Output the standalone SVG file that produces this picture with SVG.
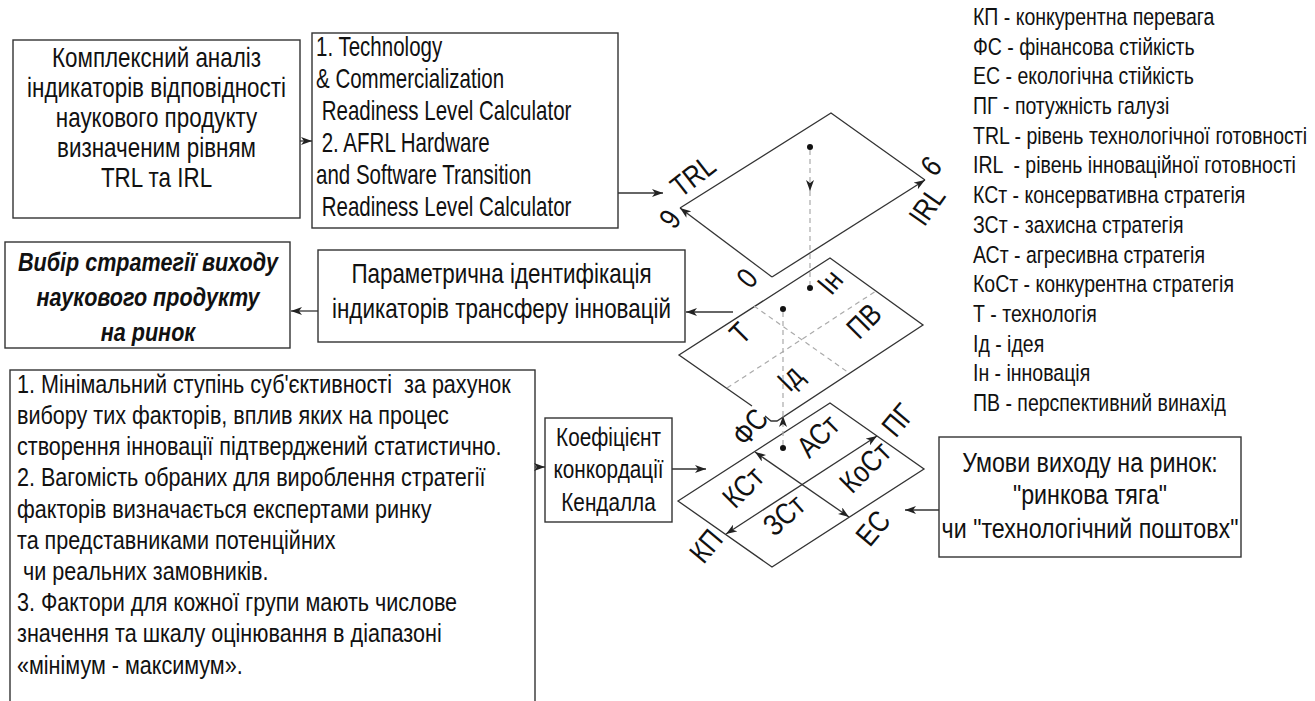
<svg xmlns="http://www.w3.org/2000/svg" width="1315" height="701" viewBox="0 0 1315 701">
<style>
text{font-family:"Liberation Sans",Arial,sans-serif;fill:#111}
.box{fill:#fff;stroke:#333;stroke-width:1.4}
.ln{fill:none;stroke:#333;stroke-width:1.3}
.ds{fill:none;stroke:#aaa;stroke-width:1.2;stroke-dasharray:5 4}
.f27{font-size:27px}
.f26{font-size:26px}
.f25{font-size:25px}
.f28{font-size:28px}
.lg{font-size:23.5px}
.lb{font-size:30px}
.bi{font-size:26px;font-weight:bold;font-style:italic}
.c{text-anchor:middle}
</style>
<defs>
<marker id="ah" viewBox="0 0 11 8" markerWidth="11" markerHeight="8" refX="11" refY="4" orient="auto-start-reverse" markerUnits="userSpaceOnUse">
<path d="M0,0 L11,4 L0,8 L3,4 z" fill="#222"/>
</marker>
</defs>
<rect width="1315" height="701" fill="#fff"/>

<g id="box-analysis">
<rect class="box" x="13" y="40" width="287" height="178"/>
<g transform="translate(156.5,0) scale(0.83,1)">
<text class="f27 c" x="0" y="67">Комплексний аналіз</text>
<text class="f27 c" x="0" y="97">індикаторів відповідності</text>
<text class="f27 c" x="0" y="127">наукового продукту</text>
<text class="f27 c" x="0" y="157">визначеним рівням</text>
<text class="f27 c" x="0" y="187">TRL та IRL</text>
</g>
</g>

<g id="box-calculators">
<rect class="box" x="312" y="33" width="306" height="195"/>
<g transform="translate(316,0) scale(0.76,1)">
<text class="f27" x="0" y="56">1. Technology</text>
<text class="f27" x="0" y="88">&amp; Commercialization</text>
<text class="f27" x="0" y="120" xml:space="preserve"> Readiness Level Calculator</text>
<text class="f27" x="0" y="152" xml:space="preserve"> 2. AFRL Hardware</text>
<text class="f27" x="0" y="184">and Software Transition</text>
<text class="f27" x="0" y="216" xml:space="preserve"> Readiness Level Calculator</text>
</g>
</g>

<g id="box-choice">
<rect class="box" x="5" y="242" width="285" height="106"/>
<g transform="translate(148,0) scale(0.83,1)">
<text class="bi c" x="0" y="271">Вибір стратегії виходу</text>
<text class="bi c" x="0" y="306">наукового продукту</text>
<text class="bi c" x="0" y="341">на ринок</text>
</g>
</g>

<g id="box-param">
<rect class="box" x="318" y="250" width="367" height="92"/>
<g transform="translate(501.5,0) scale(0.83,1)">
<text class="f27 c" x="0" y="283">Параметрична ідентифікація</text>
<text class="f27 c" x="0" y="318">індикаторів трансферу інновацій</text>
</g>
</g>

<g id="box-criteria">
<rect class="box" x="10" y="370" width="525" height="345"/>
<g transform="translate(17,0) scale(0.83,1)">
<text class="f26" x="0" y="393" xml:space="preserve">1. Мінімальний ступінь суб'єктивності  за рахунок</text>
<text class="f26" x="0" y="424">вибору тих факторів, вплив яких на процес</text>
<text class="f26" x="0" y="455">створення інновації підтверджений статистично.</text>
<text class="f26" x="0" y="486">2. Вагомість обраних для вироблення стратегії</text>
<text class="f26" x="0" y="518">факторів визначається експертами ринку</text>
<text class="f26" x="0" y="549">та представниками потенційних</text>
<text class="f26" x="0" y="580" xml:space="preserve"> чи реальних замовників.</text>
<text class="f26" x="0" y="611">3. Фактори для кожної групи мають числове</text>
<text class="f26" x="0" y="642">значення та шкалу оцінювання в діапазоні</text>
<text class="f26" x="0" y="674">«мінімум - максимум».</text>
</g>
</g>

<g id="box-kendall">
<rect class="box" x="545" y="418" width="127" height="104"/>
<g transform="translate(608.5,0) scale(0.83,1)">
<text class="f25 c" x="0" y="446">Коефіцієнт</text>
<text class="f25 c" x="0" y="478">конкордації</text>
<text class="f25 c" x="0" y="511">Кендалла</text>
</g>
</g>

<g id="box-conditions">
<rect class="box" x="939" y="437" width="302" height="120"/>
<g transform="translate(1090,0) scale(0.83,1)">
<text class="f28 c" x="0" y="472">Умови виходу на ринок:</text>
<text class="f28 c" x="0" y="504">"ринкова тяга"</text>
<text class="f28 c" x="0" y="538">чи "технологічний поштовх"</text>
</g>
</g>

<g id="legend">
<g transform="translate(973,0) scale(0.83,1)">
<text class="lg" x="0" y="25">КП - конкурентна перевага</text>
<text class="lg" x="0" y="54.7">ФС - фінансова стійкість</text>
<text class="lg" x="0" y="84.4">ЕС - екологічна стійкість</text>
<text class="lg" x="0" y="114.1">ПГ - потужність галузі</text>
<text class="lg" x="0" y="143.8">TRL - рівень технологічної готовності</text>
<text class="lg" x="0" y="173.5" xml:space="preserve">IRL  - рівень інноваційної готовності</text>
<text class="lg" x="0" y="203.2">КСт - консервативна стратегія</text>
<text class="lg" x="0" y="232.9">ЗСт - захисна стратегія</text>
<text class="lg" x="0" y="262.6">АСт - агресивна стратегія</text>
<text class="lg" x="0" y="292.3">КоСт - конкурентна стратегія</text>
<text class="lg" x="0" y="322">Т - технологія</text>
<text class="lg" x="0" y="351.7">Ід - ідея</text>
<text class="lg" x="0" y="381.4">Ін - інновація</text>
<text class="lg" x="0" y="411.1">ПВ - перспективний винахід</text>
</g>
</g>

<g id="plane-readiness">
<path class="ln" d="M680,208 L831,113 L925,180"/>
<path class="ln" d="M772,277 L680,208" marker-end="url(#ah)"/>
<path class="ln" d="M772,277 L925,180" marker-end="url(#ah)"/>
<text class="lb c" transform="translate(693,176) rotate(-38) scale(0.83,1)" dominant-baseline="central">TRL</text>
<text class="lb c" transform="translate(670,219) rotate(-55) scale(0.83,1)" dominant-baseline="central">9</text>
<text class="lb c" transform="translate(747,278) rotate(-50) scale(0.83,1)" dominant-baseline="central">0</text>
<text class="lb c" transform="translate(931,166) rotate(-50) scale(0.83,1)" dominant-baseline="central">6</text>
<text class="lb c" transform="translate(927,206) rotate(-55) scale(0.83,1)" dominant-baseline="central">IRL</text>
<circle cx="810" cy="147" r="3" fill="#111"/>
</g>

<g id="plane-innovation">
<path class="ln" d="M752,406 L679,355 L830,258 L923,325 L777,421 L771,421 L765,416"/>
<path class="ds" d="M754,306 L849,373 M727,388 L876,291"/>
<circle cx="810" cy="288" r="3" fill="#111"/>
<circle cx="783" cy="309" r="3" fill="#111"/>
<text class="lb c" transform="translate(830,282) rotate(-50) scale(0.83,1)" dominant-baseline="central">Ін</text>
<text class="lb c" transform="translate(740,333) rotate(-45) scale(0.83,1)" dominant-baseline="central">Т</text>
<text class="lb c" transform="translate(864,321) rotate(-45) scale(0.83,1)" dominant-baseline="central">ПВ</text>
<text class="lb c" transform="translate(790,378) rotate(-45) scale(0.83,1)" dominant-baseline="central">Ід</text>
</g>

<g id="plane-strategy">
<path class="ln" d="M678,501 L830,403 L924,469 L772,567 Z"/>
<path class="ln" d="M755,452 L849,517" marker-start="url(#ah)" marker-end="url(#ah)"/>
<path class="ln" d="M726,534 L877,436" marker-start="url(#ah)" marker-end="url(#ah)"/>
<circle cx="783" cy="448" r="3" fill="#111"/>
<text class="lb c" transform="translate(750,427) rotate(-50) scale(0.83,1)" dominant-baseline="central">ФС</text>
<text class="lb c" transform="translate(818,436) rotate(-45) scale(0.83,1)" dominant-baseline="central">АСт</text>
<text class="lb c" transform="translate(743,487) rotate(-45) scale(0.83,1)" dominant-baseline="central">КСт</text>
<text class="lb c" transform="translate(865,467) rotate(-45) scale(0.83,1)" dominant-baseline="central">КоСт</text>
<text class="lb c" transform="translate(784,515) rotate(-42) scale(0.83,1)" dominant-baseline="central">ЗСт</text>
<text class="lb c" transform="translate(898,420) rotate(-50) scale(0.83,1)" dominant-baseline="central">ПГ</text>
<text class="lb c" transform="translate(873,528) rotate(-50) scale(0.83,1)" dominant-baseline="central">ЕС</text>
<text class="lb c" transform="translate(706,546) rotate(-50) scale(0.83,1)" dominant-baseline="central">КП</text>
</g>

<g id="connectors">
<path class="ln" d="M300,141 L312,141" marker-end="url(#ah)"/>
<path class="ln" d="M618,193 L663,193" marker-end="url(#ah)"/>
<path class="ln" d="M733,312 L686,312" marker-end="url(#ah)"/>
<path class="ln" d="M318,311 L291,311" marker-end="url(#ah)"/>
<path class="ln" d="M535,467 L545,467" marker-end="url(#ah)"/>
<path class="ln" d="M672,469 L706,469" marker-end="url(#ah)"/>
<path class="ln" d="M939,510 L905,510" marker-end="url(#ah)"/>
<path class="ds" d="M810,150 L810,191" marker-end="url(#ah)"/>
<path class="ds" d="M810,191 L810,285"/>
<path class="ds" d="M783,445 L783,416" marker-end="url(#ah)"/>
<path class="ds" d="M783,416 L783,312"/>
</g>
</svg>
